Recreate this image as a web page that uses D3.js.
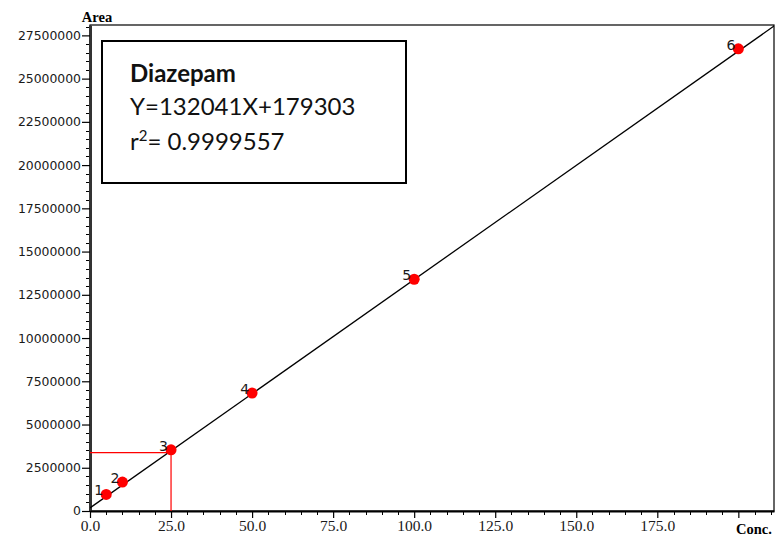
<!DOCTYPE html>
<html>
<head>
<meta charset="utf-8">
<script src="https://cdn.jsdelivr.net/npm/d3@7"></script>
<style>
  body { margin: 0; background: #fff; }
  svg { display: block; }
</style>
</head>
<body>
<svg id="chart" width="775" height="538"></svg>
<script>
// ---- data ----
const pointLabels = ["1", "2", "3", "4", "5", "6"];
const concValues = [5, 10, 25, 50, 100, 200];
const areaValues = [955000, 1670000, 3540000, 6820000, 13400000, 26720000];
const slope = 132041;
const intercept = 179303;
const markConc = 25;
const markArea = 3380000;
const xTicks = [0, 25, 50, 75, 100, 125, 150, 175, 200];
const yTicks = [0, 2500000, 5000000, 7500000, 10000000, 12500000, 15000000, 17500000, 20000000, 22500000, 25000000, 27500000];
const titleLines = ["Diazepam", "Y=132041X+179303"];
const r2Text = "0.9999557";

// ---- layout ----
const svg = d3.select("#chart");
const L = 90, R = 774, T = 25, B = 511;
const x = d3.scaleLinear().domain([0, 211]).range([L, R]);
const y = d3.scaleLinear().domain([0, 28100000]).range([B, T]);

// frame
svg.append("rect").attr("x", L).attr("y", T).attr("width", R - L).attr("height", B - T)
  .attr("fill", "none").attr("stroke", "#000").attr("stroke-width", 1.2);

// minor ticks y
const yMinor = d3.range(0, 28000001, 500000).filter(v => v % 2500000 !== 0);
svg.append("g").selectAll("line").data(yMinor).join("line")
  .attr("x1", L - 4).attr("x2", L).attr("y1", d => Math.round(y(d)) + 0.5).attr("y2", d => Math.round(y(d)) + 0.5)
  .attr("stroke", "#000").attr("stroke-width", 1);
// minor ticks x
const xMinor = d3.range(0, 211, 5).filter(v => v % 25 !== 0);
svg.append("g").selectAll("line").data(xMinor).join("line")
  .attr("x1", d => Math.round(x(d)) + 0.5).attr("x2", d => Math.round(x(d)) + 0.5).attr("y1", B).attr("y2", B + 4)
  .attr("stroke", "#000").attr("stroke-width", 1);

// y axis
const yAxis = d3.axisLeft(y).tickValues(yTicks).tickSize(8).tickSizeOuter(0).tickFormat(d3.format("d"));
const gy = svg.append("g").attr("transform", `translate(${L},0)`).call(yAxis);
gy.select(".domain").attr("stroke", "#333").attr("stroke-width", 3);
gy.selectAll(".tick line").attr("stroke", "#000").attr("stroke-width", 1.2);
gy.selectAll(".tick text").attr("font-family", "DejaVu Sans").attr("font-size", 12.4).attr("fill", "#1a1a1a").attr("x", -9);

// x axis
const xAxis = d3.axisBottom(x).tickValues(xTicks).tickSize(7).tickSizeOuter(0)
  .tickFormat(d => d === 200 ? "" : d3.format(".1f")(d));
const gx = svg.append("g").attr("transform", `translate(0,${B})`).call(xAxis);
gx.select(".domain").attr("stroke", "#000").attr("stroke-width", 2);
gx.selectAll(".tick line").attr("stroke", "#000").attr("stroke-width", 1.2);
gx.selectAll(".tick text").attr("font-family", "Liberation Serif").attr("font-size", 15.5).attr("fill", "#1a1a1a").attr("y", 9);

// axis titles
svg.append("text").attr("x", 97).attr("y", 22).attr("text-anchor", "middle")
  .attr("font-family", "Liberation Serif").attr("font-weight", "bold").attr("font-size", 14.5).text("Area");
svg.append("text").attr("x", 754).attr("y", 534).attr("text-anchor", "middle")
  .attr("font-family", "Liberation Serif").attr("font-weight", "bold").attr("font-size", 14.5).text("Conc.");

// red marker lines
svg.append("path")
  .attr("d", `M${L},${y(markArea)}H${x(markConc)}V${B}`)
  .attr("fill", "none").attr("stroke", "#ff0000").attr("stroke-width", 1.2);

// regression line
const xd = x.domain();
svg.append("defs").append("clipPath").attr("id", "clip")
  .append("rect").attr("x", L).attr("y", T).attr("width", R - L).attr("height", B - T);
svg.append("line").attr("clip-path", "url(#clip)")
  .attr("x1", x(xd[0])).attr("y1", y(slope * xd[0] + intercept))
  .attr("x2", x(xd[1])).attr("y2", y(slope * xd[1] + intercept))
  .attr("stroke", "#000").attr("stroke-width", 1.3);

// points
const pts = concValues.map((c, i) => ({ c, a: areaValues[i], l: pointLabels[i] }));
svg.append("g").selectAll("circle").data(pts).join("circle")
  .attr("cx", d => x(d.c)).attr("cy", d => y(d.a)).attr("r", 5.5).attr("fill", "#ff0000");
svg.append("g").selectAll("text").data(pts).join("text")
  .attr("x", d => x(d.c) - 3).attr("y", d => y(d.a) + 1).attr("text-anchor", "end")
  .attr("font-family", "DejaVu Sans").attr("font-size", 14).attr("fill", "#1a1a1a").text(d => d.l);

// annotation box
svg.append("rect").attr("x", 102).attr("y", 41).attr("width", 304).attr("height", 142)
  .attr("fill", "#fff").attr("stroke", "#000").attr("stroke-width", 2);
svg.append("text").attr("x", 130).attr("y", 82).attr("font-family", "Lato").attr("font-weight", "bold")
  .attr("font-size", 24).attr("fill", "#111").text(titleLines[0]);
svg.append("text").attr("x", 130).attr("y", 115).attr("font-family", "Lato")
  .attr("font-size", 24).attr("fill", "#111").text(titleLines[1]);
const r2 = svg.append("text").attr("x", 130).attr("y", 150).attr("font-family", "Lato")
  .attr("font-size", 24).attr("fill", "#111");
r2.append("tspan").text("r");
r2.append("tspan").attr("font-size", 15).attr("dy", -9).text("2");
r2.append("tspan").attr("dy", 9).text("= " + r2Text);
</script>
</body>
</html>
